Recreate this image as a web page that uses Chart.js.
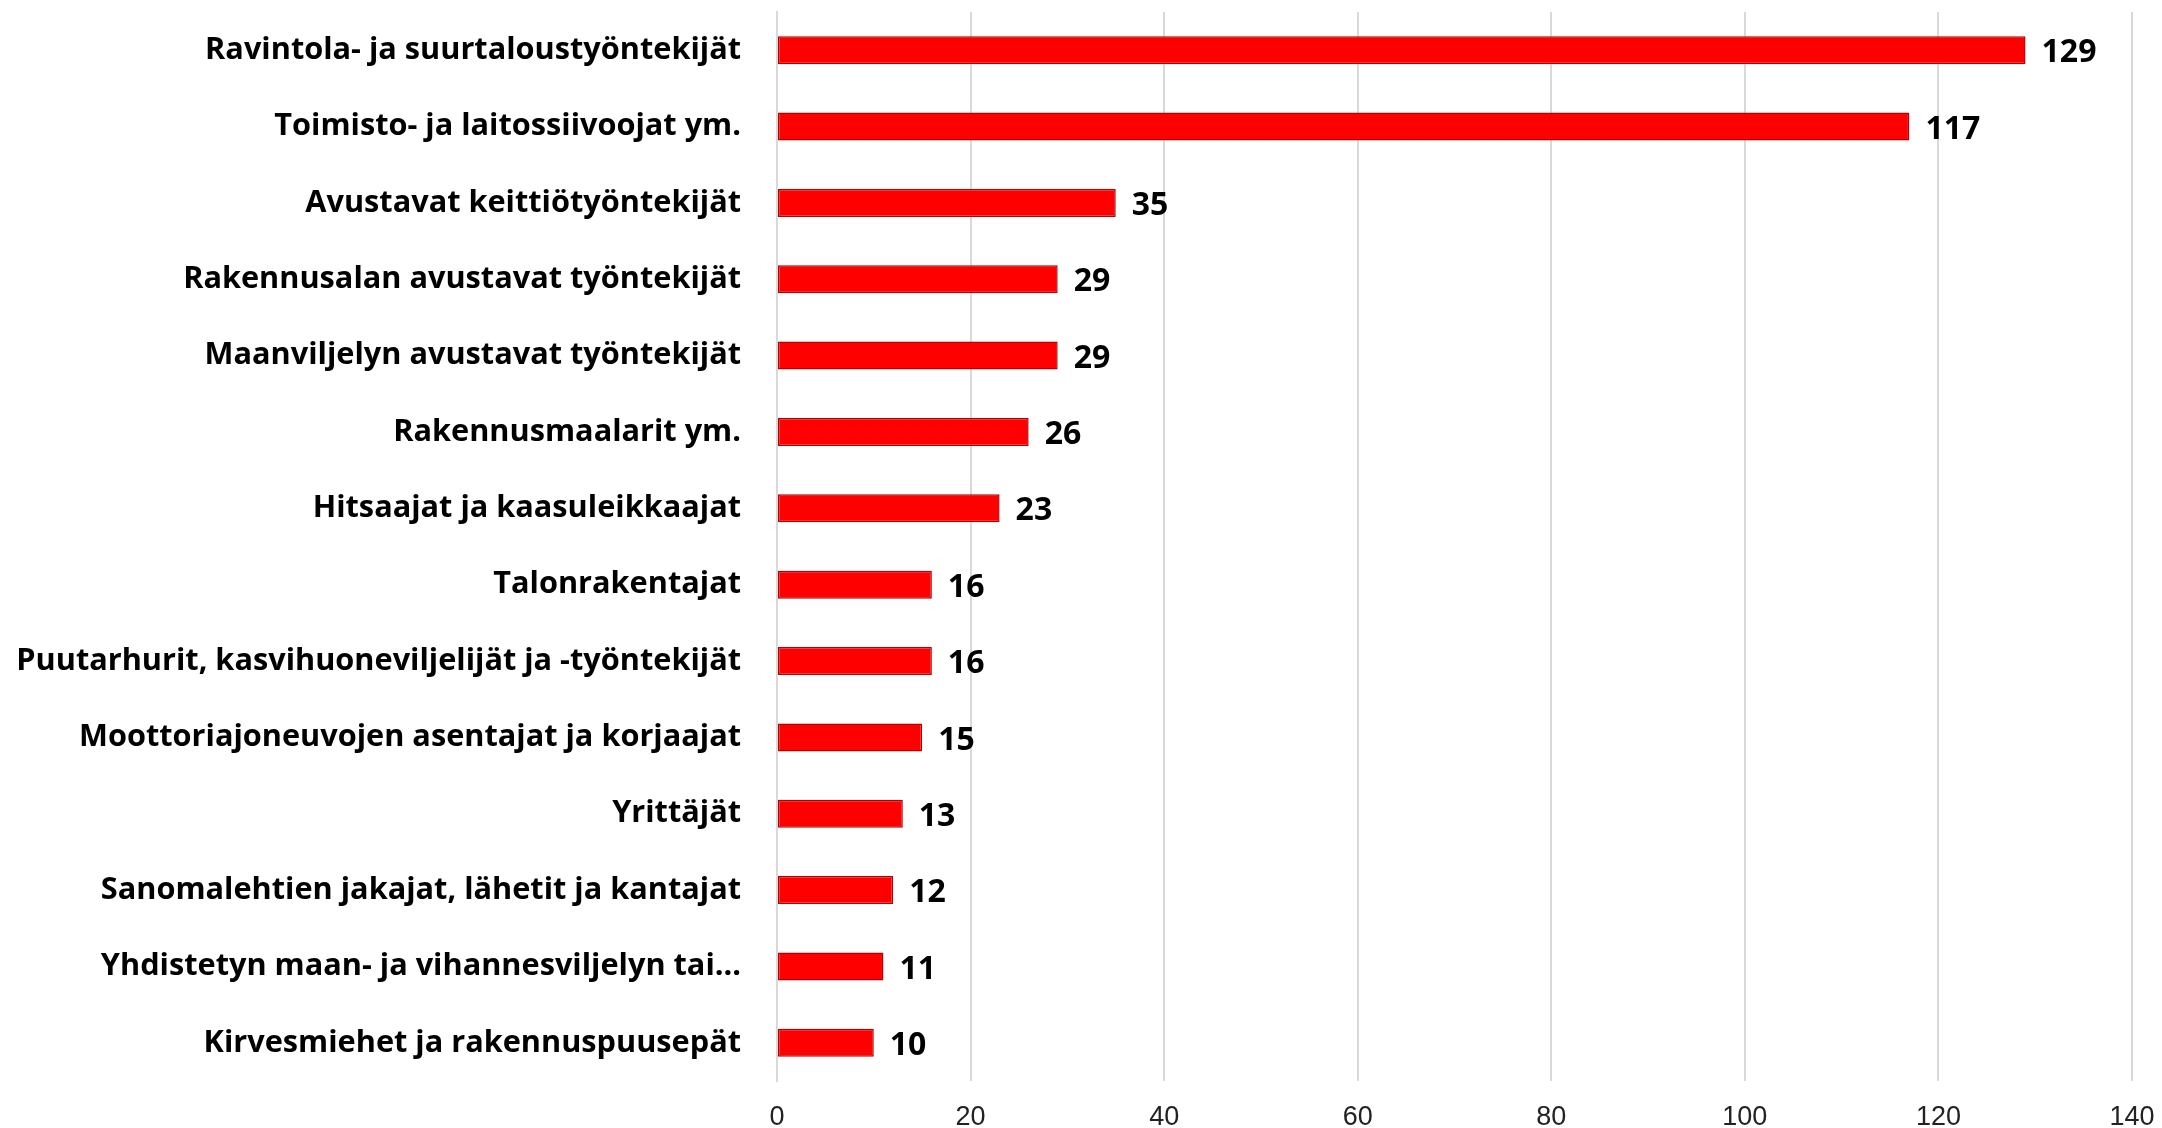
<!DOCTYPE html>
<html lang="fi">

<head>
    <meta charset="UTF-8">
    <title>Ammatit</title>
    <script src="https://cdn.jsdelivr.net/npm/chart.js"></script>
    <style>
        html, body { margin: 0; padding: 0; background: #fff; }
        #wrap { width: 2162px; height: 1128px; }
    </style>
</head>

<body>
    <div id="wrap">
        <canvas id="ammatitChart" width="2162" height="1128"></canvas>
    </div>

    <script>
        var occupations = [
            'Ravintola- ja suurtaloustyöntekijät',
            'Toimisto- ja laitossiivoojat ym.',
            'Avustavat keittiötyöntekijät',
            'Rakennusalan avustavat työntekijät',
            'Maanviljelyn avustavat työntekijät',
            'Rakennusmaalarit ym.',
            'Hitsaajat ja kaasuleikkaajat',
            'Talonrakentajat',
            'Puutarhurit, kasvihuoneviljelijät ja -työntekijät',
            'Moottoriajoneuvojen asentajat ja korjaajat',
            'Yrittäjät',
            'Sanomalehtien jakajat, lähetit ja kantajat',
            'Yhdistetyn maan- ja vihannesviljelyn tai…',
            'Kirvesmiehet ja rakennuspuusepät'
        ];
        var counts = [129, 117, 35, 29, 29, 26, 23, 16, 16, 15, 13, 12, 11, 10];
        var axisMax = 140;
        var axisStep = 20;

        // numbers at the end of each bar
        var valueLabels = {
            id: 'valueLabels',
            afterDatasetsDraw: function(chart) {
                var ctx = chart.ctx;
                var meta = chart.getDatasetMeta(0);
                ctx.save();
                ctx.font = 'bold 32px "Open Sans"';
                ctx.fillStyle = '#000';
                ctx.textAlign = 'left';
                ctx.textBaseline = 'middle';
                meta.data.forEach(function(bar, i) {
                    ctx.fillText(String(counts[i]), bar.x + 16, bar.y + 3);
                });
                ctx.restore();
            }
        };

        document.addEventListener('DOMContentLoaded', function() {
            var ctx = document.getElementById('ammatitChart').getContext('2d');
            new Chart(ctx, {
                type: 'bar',
                data: {
                    labels: occupations,
                    datasets: [{
                        data: counts,
                        backgroundColor: '#FF0000',
                        borderColor: '#B80000',
                        borderWidth: 1.5,
                        borderSkipped: false,
                        categoryPercentage: 1,
                        barPercentage: 0.367
                    }]
                },
                options: {
                    indexAxis: 'y',
                    responsive: false,
                    animation: false,
                    layout: { padding: { top: 12, right: 30, left: 0, bottom: 0 } },
                    plugins: {
                        legend: { display: false },
                        tooltip: { enabled: false }
                    },
                    scales: {
                        x: {
                            min: 0,
                            max: axisMax,
                            ticks: {
                                stepSize: axisStep,
                                padding: 20,
                                color: '#222',
                                font: { family: '"Liberation Sans", Arial', size: 27 }
                            },
                            grid: { color: '#d9d9d9', lineWidth: 2, drawTicks: false },
                            border: { display: false },
                            afterFit: function(scale) {
                                scale.height = 47;
                                scale.paddingLeft = 0;
                                scale.paddingRight = 0;
                            }
                        },
                        y: {
                            ticks: {
                                padding: 36,
                                color: '#000',
                                font: { family: '"Open Sans"', size: 30.7, weight: 'bold' }
                            },
                            grid: { display: false, drawTicks: false },
                            border: { display: true, color: '#d9d9d9', width: 2 },
                            afterFit: function(scale) {
                                scale.width = 777;
                                scale.paddingTop = 0;
                                scale.paddingBottom = 0;
                            }
                        }
                    }
                },
                plugins: [valueLabels]
            });
        });
    </script>
</body>

</html>
